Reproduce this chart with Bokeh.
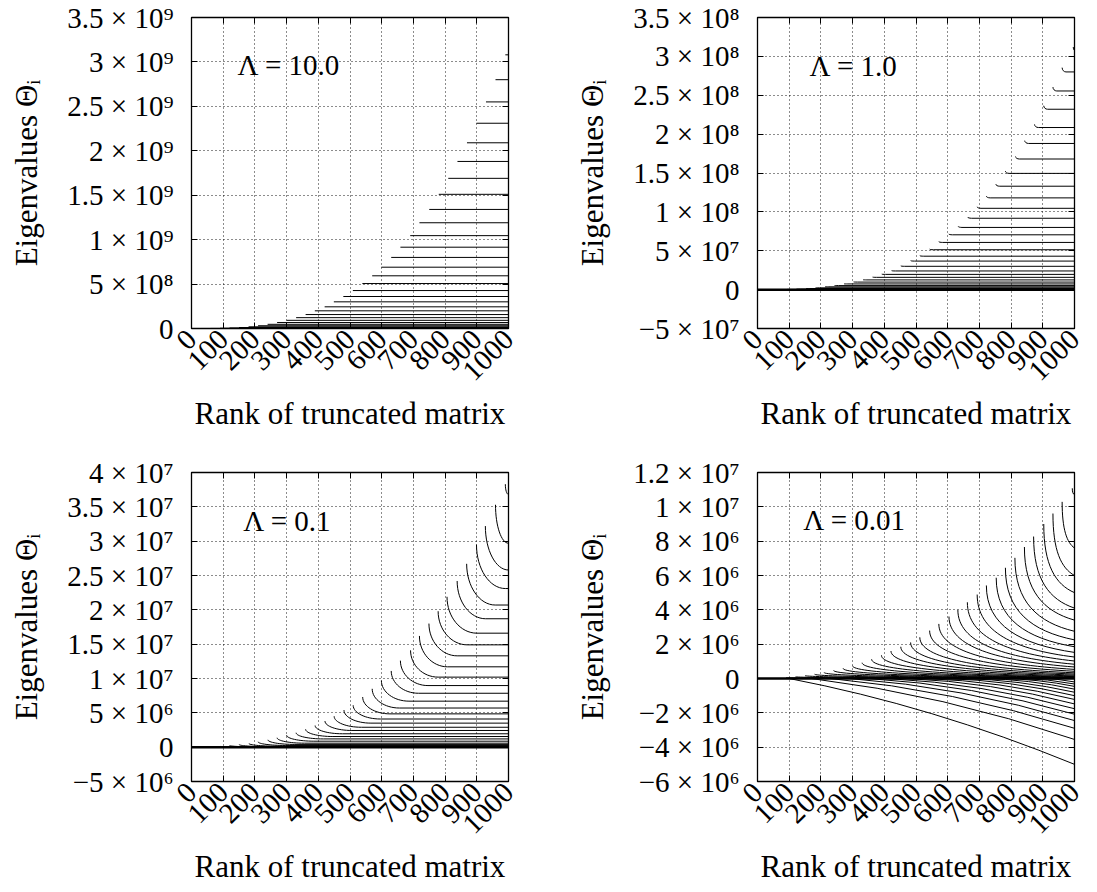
import math
from bokeh.plotting import figure
from bokeh.layouts import gridplot
from bokeh.models import Range1d, FixedTicker, LinearAxis, Label, Span, CustomJSTickFormatter
from bokeh.embed import file_html
from bokeh.resources import INLINE

# ---------------- data ----------------
rank_ticks = [0, 100, 200, 300, 400, 500, 600, 700, 800, 900, 1000]
x_label = "Rank of truncated matrix"
y_label = "Eigenvalues \u0398\u1d62"

# Panel 1: Lambda = 10.0 (flat branches, values x 1e9)
p1_lambda = "\u039b = 10.0"
p1_yticks = [0, 5e8, 1e9, 1.5e9, 2e9, 2.5e9, 3e9, 3.5e9]
p1_start = [990, 959, 929, 899, 869, 839, 810, 780, 750, 719, 690, 659, 630, 599, 570,
            539, 509, 479, 449, 420, 389, 360, 330, 300, 270, 240, 210, 180, 150, 120, 90, 60, 30]
p1_level = [3.08, 2.80, 2.55, 2.31, 2.09, 1.88, 1.69, 1.51, 1.34, 1.19, 1.045, 0.915, 0.80, 0.69,
            0.593, 0.506, 0.427, 0.36, 0.30, 0.244, 0.199, 0.157, 0.122, 0.092, 0.067, 0.047,
            0.031, 0.019, 0.011, 0.0055, 0.0024, 0.0007, 0.0001]

# Panel 2: Lambda = 1.0 (small hooks, values x 1e8)
p2_lambda = "\u039b = 1.0"
p2_yticks = [-5e7, 0, 5e7, 1e8, 1.5e8, 2e8, 2.5e8, 3e8, 3.5e8]
p2_start = [996, 961, 932, 903, 874, 843, 814, 782, 752, 722, 693, 663, 633, 603, 572, 543,
            512, 483, 452, 423, 392, 363, 333, 303, 273, 243, 213, 183, 153, 123, 93, 63, 33]
p2_top = [3.12, 2.855, 2.605, 2.365, 2.125, 1.916, 1.712, 1.523, 1.355, 1.202, 1.065, 0.934,
          0.814, 0.717, 0.617, 0.521, 0.437, 0.373, 0.305, 0.244, 0.199, 0.161, 0.127, 0.099,
          0.074, 0.053, 0.0365, 0.0233, 0.0142, 0.0071, 0.003, 0.001, 0.0002]
p2_level = [3.06, 2.80, 2.555, 2.32, 2.085, 1.88, 1.68, 1.495, 1.33, 1.18, 1.046, 0.918, 0.80,
            0.705, 0.607, 0.513, 0.43, 0.367, 0.30, 0.24, 0.196, 0.158, 0.125, 0.097, 0.073,
            0.052, 0.036, 0.023, 0.014, 0.007, 0.003, 0.001, 0.0002]

# Panel 3: Lambda = 0.1 (values x 1e7)
p3_lambda = "\u039b = 0.1"
p3_yticks = [-5e6, 0, 5e6, 1e7, 1.5e7, 2e7, 2.5e7, 3e7, 3.5e7, 4e7]
p3_start = [990, 959, 927, 899, 868, 838, 806, 778, 749, 719, 691, 659, 630, 599, 570, 540,
            510, 481, 450, 421, 390, 360, 330, 300, 270, 241, 210, 181, 150, 120, 90]
p3_top = [3.83, 3.53, 3.22, 2.95, 2.67, 2.42, 2.19, 1.98, 1.80, 1.62, 1.41, 1.26, 1.11, 0.97,
          0.85, 0.73, 0.61, 0.54, 0.45, 0.38, 0.315, 0.26, 0.21, 0.175, 0.137, 0.107, 0.078,
          0.054, 0.039, 0.025, 0.012]
p3_knee = [1000, 1000, 1000, 990, 958, 928, 900, 870, 838, 808, 778, 746, 716, 686, 656, 626,
           596, 566, 536, 506, 476, 446, 416, 386, 356, 326, 296, 266, 236, 206, 176]
p3_level = [3.68, 2.97, 2.58, 2.31, 2.07, 1.87, 1.66, 1.49, 1.33, 1.17, 1.02, 0.897, 0.785,
            0.67, 0.57, 0.485, 0.41, 0.35, 0.29, 0.243, 0.195, 0.155, 0.12, 0.087, 0.058,
            0.04, 0.025, 0.015, 0.008, 0.004, 0.002]

# Panel 4: Lambda = 0.01 (values x 1e6)
p4_lambda = "\u039b = 0.01"
p4_yticks = [-6e6, -4e6, -2e6, 0, 2e6, 4e6, 6e6, 8e6, 1e7, 1.2e7]
p4_start = [993, 961, 932, 903, 871, 842, 812, 782, 753, 722, 693, 662, 632, 604, 572, 543,
            512, 483, 452, 421, 391, 360, 330, 300, 270, 240, 210, 180, 150, 120, 90]
p4_top = [11.08, 10.29, 9.61, 9.0, 8.27, 7.66, 7.03, 6.45, 5.87, 5.42, 4.89, 4.44, 4.0, 3.61,
          3.18, 2.79, 2.40, 2.10, 1.85, 1.60, 1.35, 1.12, 0.92, 0.74, 0.59, 0.47, 0.35, 0.25,
          0.17, 0.10, 0.05]
p4_end = [10.7, 7.6, 6.0, 5.0, 4.1, 3.4, 2.75, 2.25, 1.85, 1.52, 1.25, 1.02, 0.83, 0.67, 0.53,
          0.42, 0.33, 0.26, 0.2, 0.15, 0.11, 0.08, 0.06, 0.045, 0.03, 0.02, 0.015, 0.01, 0.006,
          0.003, 0.001]
p4_neg_start = [100, 170, 230, 290, 350, 410, 470, 530, 590, 650, 710, 770, 830, 890]
p4_neg_mid = [-2.05, -1.35, -1.05, -0.85, -0.70, -0.58, -0.47, -0.38, -0.30, -0.24, -0.18,
              -0.13, -0.09, -0.05]
p4_neg_end = [-5.0, -3.55, -2.9, -2.45, -2.08, -1.76, -1.48, -1.22, -1.0, -0.8, -0.62, -0.46,
              -0.32, -0.2]

# ---------------- styling helpers ----------------
FONT = "Liberation Serif"
TICK_FS = "29px"
AXIS_FS = "31px"
NOTE_FS = "29px"
SUP = str.maketrans("0123456789", "\u2070\u00b9\u00b2\u00b3\u2074\u2075\u2076\u2077\u2078\u2079")
X_END = rank_ticks[-1]


def sci(v):
    if v == 0:
        return "0"
    sign = "\u2212" if v < 0 else ""
    a = abs(v)
    e = int(math.floor(math.log10(a) + 1e-9))
    m = round(a / 10 ** e, 3)
    return f"{sign}{m:g} \u00d7 10{str(e).translate(SUP)}"


def make_fig(w, h, bl, br, bt, bb, yticks):
    p = figure(width=w, height=h, x_range=Range1d(rank_ticks[0], rank_ticks[-1]),
               y_range=Range1d(yticks[0], yticks[-1]),
               output_backend="svg", toolbar_location=None, tools="",
               min_border_left=bl, min_border_right=br, min_border_top=bt, min_border_bottom=bb)
    p.background_fill_color = "white"
    p.border_fill_color = "white"
    p.outline_line_color = "black"
    p.outline_line_width = 1.3
    xt = FixedTicker(ticks=rank_ticks)
    yt = FixedTicker(ticks=yticks)
    xa = p.below[0]
    ya = p.left[0]
    xa.ticker = xt
    ya.ticker = yt
    for ax in (xa, ya):
        ax.major_tick_in = 6
        ax.major_tick_out = 0
        ax.minor_tick_line_color = None
        ax.axis_line_color = "black"
        ax.major_tick_line_color = "black"
        ax.major_label_text_font = FONT
        ax.major_label_text_font_size = TICK_FS
        ax.major_label_text_color = "black"
        ax.axis_label_text_font = FONT
        ax.axis_label_text_font_size = AXIS_FS
        ax.axis_label_text_font_style = "normal"
        ax.axis_label_text_color = "black"
    xa.axis_label = x_label
    ya.axis_label = y_label
    xa.major_label_orientation = math.pi / 4
    xa.major_label_standoff = 6
    xa.axis_label_standoff = 4
    ya.major_label_standoff = 18
    ya.axis_label_standoff = 20
    ya.major_label_overrides = {float(t): sci(t) for t in yticks}
    # mirrored tick marks on top and right (no labels, as in the reference)
    for side, tk in (("above", xt), ("right", yt)):
        ax = LinearAxis(ticker=tk, formatter=CustomJSTickFormatter(code="return ''"))
        ax.major_tick_in = 6
        ax.major_tick_out = 0
        ax.minor_tick_line_color = None
        ax.major_label_text_color = None
        ax.major_label_text_font_size = "8px"
        ax.major_label_standoff = 0
        ax.axis_line_color = "black"
        p.add_layout(ax, side)
    p.xgrid.ticker = xt
    p.ygrid.ticker = yt
    for g in (p.xgrid, p.ygrid):
        g.grid_line_color = "black"
        g.grid_line_dash = "1 3"
        g.grid_line_width = 1
        g.grid_line_alpha = 0.9
    return p


def add_label(p, text, x, y):
    p.add_layout(Label(x=x, y=y, text=text, text_font=FONT, text_font_size=NOTE_FS,
                       text_baseline="middle", text_color="black"))


def ellipse_curves(p, xs, ys, xe, ye, k0=0.55, k1=0.55, tail=0.0):
    cx0 = list(xs)
    cy0 = [a - k0 * (a - b) for a, b in zip(ys, ye)]
    cx1 = [e - k1 * (e - s) for s, e in zip(xs, xe)]
    cy1 = [b + tail * (a - b) for a, b in zip(ys, ye)]
    p.bezier(x0=xs, y0=ys, x1=xe, y1=ye, cx0=cx0, cy0=cy0, cx1=cx1, cy1=cy1,
             line_color="black", line_width=1)


LW = 1

# ---------------- Panel 1 ----------------
f1 = make_fig(548, 446, 191, 40, 17, 118, p1_yticks)
s1 = 1e9
f1.segment(x0=p1_start, y0=[v * s1 for v in p1_level], x1=[X_END] * len(p1_start),
           y1=[v * s1 for v in p1_level], line_color="black", line_width=LW)
add_label(f1, p1_lambda, 145, 2.96e9)

# ---------------- Panel 2 ----------------
f2 = make_fig(549, 446, 209, 23, 16, 118, p2_yticks)
s2 = 1e8
hook = 12
k2 = [s + hook for s in p2_start]
f2.add_layout(Span(location=0, dimension="width", line_color="black", line_width=2.5))
ellipse_curves(f2, p2_start, [v * s2 for v in p2_top], k2, [v * s2 for v in p2_level])
f2.segment(x0=k2, y0=[v * s2 for v in p2_level], x1=[X_END] * len(k2),
           y1=[v * s2 for v in p2_level], line_color="black", line_width=LW)
add_label(f2, p2_lambda, 164, 2.876e8)

# ---------------- Panel 3 ----------------
f3 = make_fig(548, 446, 191, 40, 26, 111, p3_yticks)
s3 = 1e7
f3.add_layout(Span(location=0, dimension="width", line_color="black", line_width=2.5))
ellipse_curves(f3, p3_start, [v * s3 for v in p3_top], p3_knee, [v * s3 for v in p3_level])
f3.segment(x0=p3_knee, y0=[v * s3 for v in p3_level], x1=[X_END] * len(p3_knee),
           y1=[v * s3 for v in p3_level], line_color="black", line_width=LW)
add_label(f3, p3_lambda, 163, 3.30e7)

# ---------------- Panel 4 ----------------
f4 = make_fig(549, 446, 209, 23, 26, 111, p4_yticks)
s4 = 1e6
f4.add_layout(Span(location=0, dimension="width", line_color="black", line_width=2.5))
ellipse_curves(f4, p4_start, [v * s4 for v in p4_top], [X_END] * len(p4_start),
               [v * s4 for v in p4_end], k0=0.6, k1=0.62, tail=0.12)
mid_x = [(s + X_END) / 2 for s in p4_neg_start]
nx0 = p4_neg_start
ny0 = [0.0] * len(nx0)
nx1 = [X_END] * len(nx0)
ny1 = [v * s4 for v in p4_neg_end]
ncx = [2 * m - 0.5 * (a + b) for m, a, b in zip(mid_x, nx0, nx1)]
ncy = [2 * m * s4 - 0.5 * (a + b) for m, a, b in zip(p4_neg_mid, ny0, ny1)]
f4.quadratic(x0=nx0, y0=ny0, x1=nx1, y1=ny1, cx=ncx, cy=ncy, line_color="black", line_width=LW)
add_label(f4, p4_lambda, 144, 9.22e6)

grid = gridplot([[f1, f2], [f3, f4]], toolbar_location=None)
open("out.html", "w").write(file_html(grid, INLINE))
